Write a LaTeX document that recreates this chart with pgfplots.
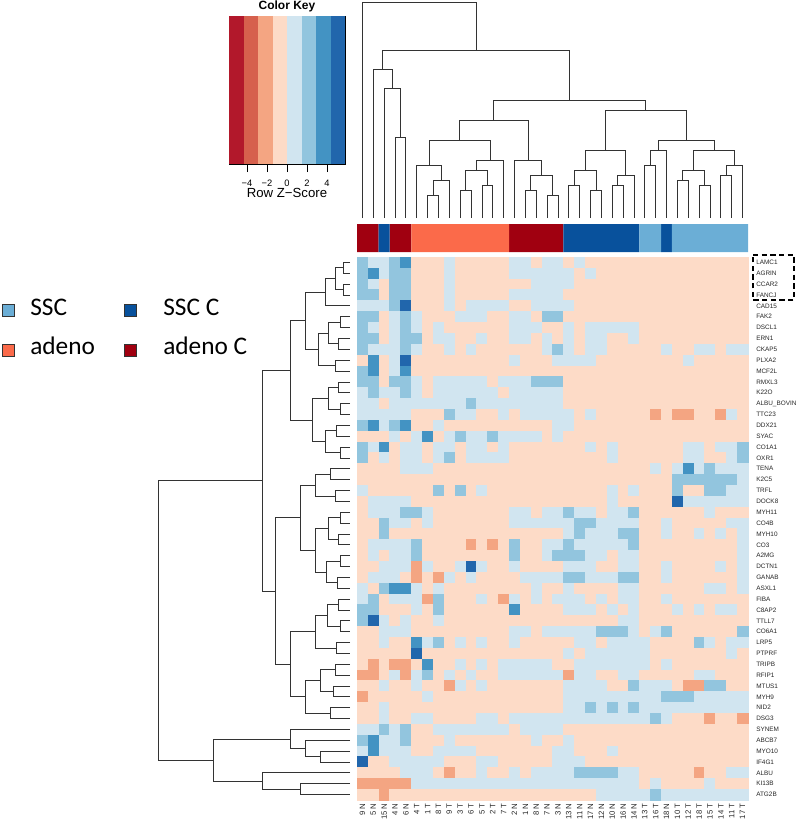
\documentclass[border=0pt]{standalone}
\usepackage{pgfplots}
\usepackage{pgfplotstable}
\pgfplotsset{compat=1.18}
\usepackage{fontspec}
\setmainfont{Liberation Sans}
\newfontfamily\legfont{Carlito}
\newcommand\lab{\fontsize{4.8}{5}\selectfont}
\newcommand\clab{\fontsize{5.8}{6}\selectfont}
\definecolor{cSSC}{RGB}{107,174,214}
\definecolor{cSSCC}{RGB}{8,81,156}
\definecolor{cAd}{RGB}{251,106,74}
\definecolor{cAdC}{RGB}{160,0,16}
\definecolor{k1}{RGB}{178,24,43}
\definecolor{k2}{RGB}{214,96,77}
\definecolor{k3}{RGB}{244,165,130}
\definecolor{k4}{RGB}{253,219,199}
\definecolor{k5}{RGB}{209,229,240}
\definecolor{k6}{RGB}{146,197,222}
\definecolor{k7}{RGB}{67,147,195}
\definecolor{k8}{RGB}{33,102,172}
% heatmap levels: 0..7 = colour key stripes from dark red to dark blue
\pgfplotstableread[header=false]{
5 4 4 5 6 3 3 3 4 3 3 3 3 3 4 4 3 4 4 3 4 3 3 3 3 3 3 3 3 3 3 3 3 3 3 3
5 6 4 5 5 3 3 3 4 3 3 3 3 3 4 4 4 4 4 4 3 4 3 3 3 3 3 3 3 3 3 3 3 3 3 3
5 4 3 5 5 3 3 3 4 3 3 3 3 3 3 3 4 4 4 4 3 3 3 3 3 3 3 3 3 3 3 3 3 3 3 3
5 5 3 5 5 3 3 3 4 3 3 3 3 3 4 4 4 4 4 3 3 3 3 3 3 3 3 3 3 3 3 3 3 3 3 3
4 4 4 5 7 3 3 3 4 3 4 4 4 4 3 3 4 4 4 4 3 3 3 3 3 3 3 3 3 3 3 3 3 3 3 3
5 5 3 4 5 4 3 3 3 4 4 4 3 3 4 4 3 5 5 3 3 3 3 3 3 3 3 3 3 3 3 3 3 3 3 3
5 4 3 4 5 4 3 4 3 3 3 3 3 3 4 4 4 3 3 4 3 4 4 4 4 4 3 3 3 3 3 3 3 3 3 3
5 5 3 4 5 5 3 4 4 3 3 4 3 3 4 4 3 4 3 4 3 4 4 3 3 4 3 3 3 3 3 3 3 3 3 3
5 4 4 4 5 4 3 3 4 3 4 3 3 3 3 3 3 4 5 4 3 4 4 3 3 3 3 3 4 3 3 4 4 3 4 4
3 6 3 4 7 3 3 3 3 3 3 3 3 3 4 3 3 3 4 4 4 4 3 3 3 3 3 3 3 3 4 3 3 3 3 3
5 6 3 4 6 3 3 3 3 3 3 3 3 3 3 3 3 3 3 3 3 3 3 3 3 3 3 3 3 3 3 3 3 3 3 3
5 5 3 5 5 4 3 4 4 4 4 4 3 4 4 4 5 5 5 3 3 3 3 3 3 3 3 3 3 3 3 3 3 3 3 3
4 5 4 4 5 4 3 4 4 4 4 4 4 3 4 4 4 4 4 3 3 3 3 3 3 3 3 3 3 3 3 3 3 3 3 3
4 4 3 4 4 4 4 4 4 4 5 4 4 4 4 4 4 4 4 3 3 3 3 3 3 3 3 3 3 3 3 3 3 3 3 3
4 4 4 4 4 3 3 3 5 4 4 3 3 4 3 4 4 4 4 4 3 4 3 3 3 3 3 2 3 2 2 3 3 2 4 3
5 6 4 5 6 3 3 4 3 3 3 3 3 3 3 3 3 3 4 4 3 3 3 3 3 3 3 3 3 3 3 3 3 3 3 3
3 3 3 4 3 4 6 3 4 5 4 4 5 4 4 4 4 3 4 3 3 3 3 3 3 3 3 3 3 3 3 3 3 3 3 3
5 4 6 3 4 4 3 4 4 3 4 4 3 4 3 3 3 3 3 3 3 4 3 4 3 3 3 3 3 3 4 4 3 4 4 5
5 3 4 3 4 4 3 4 5 3 4 4 4 4 3 3 3 3 3 3 3 3 3 4 3 3 3 3 3 3 4 4 3 3 4 5
3 3 3 3 4 4 4 3 3 3 3 3 3 3 3 3 3 3 3 3 3 3 3 3 3 3 3 4 3 4 6 4 5 4 4 4
3 3 3 3 3 3 3 3 3 3 3 3 3 3 3 3 3 3 3 3 3 3 3 3 3 3 3 3 3 5 5 5 5 5 5 4
4 3 3 3 3 3 3 5 3 5 3 4 3 3 3 3 3 3 3 3 3 3 3 4 3 4 3 3 3 5 3 3 5 5 4 4
3 4 4 4 4 3 3 3 3 3 3 3 3 3 3 3 3 3 3 3 3 3 3 4 3 3 3 3 3 7 4 4 4 4 4 4
3 4 4 4 5 5 4 3 3 3 3 3 3 3 4 4 3 4 4 5 4 4 3 4 4 5 3 3 3 3 3 3 4 3 3 3
3 3 5 4 4 3 4 3 3 3 3 3 3 3 4 4 4 4 4 4 5 5 4 4 4 4 3 3 4 3 3 3 3 3 4 4
3 3 5 3 3 3 3 3 3 3 3 3 3 3 3 3 3 3 3 4 5 4 4 4 5 5 3 3 4 3 3 4 3 4 3 4
3 4 4 4 4 5 3 3 3 3 2 3 2 3 5 3 3 4 4 5 4 4 4 4 4 5 3 3 3 3 3 3 3 3 3 4
3 4 3 4 4 5 3 3 3 3 3 3 3 3 5 3 3 4 5 5 5 4 4 3 4 4 3 3 3 3 3 3 3 3 3 4
3 3 4 4 4 2 4 3 3 4 7 4 3 3 4 3 3 3 3 4 4 4 3 3 4 4 3 3 4 3 3 3 3 4 3 4
3 4 4 4 3 2 3 2 4 3 4 3 3 3 3 4 4 4 4 5 5 4 4 4 5 5 3 3 4 3 3 3 3 3 3 4
4 3 5 6 6 4 3 4 3 3 3 3 3 3 3 3 4 3 3 4 3 3 3 3 4 4 3 3 3 3 3 3 4 4 3 4
4 5 3 4 4 4 2 5 3 3 3 4 3 2 4 3 4 3 4 4 4 3 4 3 4 4 3 3 4 3 3 3 3 3 3 3
5 5 3 3 3 4 3 5 3 3 3 3 3 3 6 3 3 3 3 4 4 4 3 4 3 4 3 3 3 4 3 4 3 4 4 3
5 7 4 3 4 3 3 4 3 3 3 3 3 3 3 3 3 3 3 3 3 3 3 3 4 4 3 3 3 3 3 3 3 3 3 3
3 3 4 4 4 3 3 3 3 3 3 3 3 3 4 4 3 4 4 4 4 4 5 5 5 4 3 4 5 3 3 3 3 3 3 5
3 3 4 3 3 6 4 5 3 4 3 4 3 3 4 3 3 3 3 3 4 4 3 4 4 4 4 3 3 3 3 5 4 3 4 4
3 3 3 3 3 7 3 3 3 3 3 3 3 3 3 3 3 3 3 4 3 4 4 4 4 4 4 3 3 3 3 3 3 3 4 3
3 2 3 2 2 3 6 3 3 4 3 4 3 4 4 4 4 4 3 3 4 4 4 4 4 4 4 3 4 3 3 3 3 3 3 3
2 2 3 4 2 4 5 3 4 3 4 3 3 4 4 4 4 4 4 2 4 4 3 3 4 4 3 3 3 3 3 4 4 3 3 3
3 3 4 3 3 4 3 3 2 4 3 4 3 3 3 3 3 3 3 4 4 4 4 3 3 5 4 4 4 3 2 2 5 5 3 3
2 3 3 3 3 3 4 3 3 3 3 3 3 3 3 3 3 3 3 4 4 4 4 4 4 4 4 4 5 5 5 4 4 4 4 4
3 3 4 3 3 3 3 3 3 3 3 3 3 3 3 3 3 3 3 4 4 5 4 5 4 5 4 4 4 4 4 4 4 4 4 4
3 3 4 3 3 4 4 3 3 3 3 4 4 3 4 4 4 4 4 4 4 4 4 4 4 4 4 5 4 3 3 3 2 3 3 2
4 4 5 4 5 3 3 4 4 4 4 4 4 4 3 4 4 4 4 3 3 3 3 3 3 3 3 3 3 3 3 3 3 3 3 3
5 6 4 4 5 3 3 3 4 3 3 3 3 3 3 3 4 3 3 4 3 3 3 3 3 3 3 3 3 3 3 3 3 3 3 3
4 6 4 4 4 3 3 4 4 4 4 3 3 3 3 3 3 3 4 4 3 3 3 4 3 3 3 3 3 3 3 3 3 3 3 3
7 3 3 4 4 4 4 4 3 3 3 4 4 3 3 3 3 3 4 4 4 3 3 3 3 3 3 3 3 3 3 3 3 3 3 3
3 3 3 3 4 4 4 3 2 3 3 4 3 3 4 3 4 4 4 4 5 5 5 5 4 4 3 3 3 3 3 2 3 3 4 4
2 2 2 2 2 4 4 4 4 4 4 4 4 4 4 4 4 4 4 4 4 4 4 4 4 4 3 4 3 3 3 3 4 3 3 3
3 3 2 3 3 3 3 3 3 3 3 3 3 3 3 3 3 3 3 3 3 3 4 4 4 4 4 5 4 4 4 4 4 4 4 4
}\hm
\begin{document}
\begin{tikzpicture}
\path[use as bounding box] (0,0) rectangle (597.75pt,-618.75pt);
\clip (0,0) rectangle (597.75pt,-618.75pt);
% ---------------- heatmap
\begin{axis}[at={(267.75pt,-192.75pt)}, anchor=north west, scale only axis,
  width=293.25pt, height=407.25pt,
  xmin=-0.5, xmax=35.5, ymin=-0.5, ymax=49.5, y dir=reverse,
  axis line style={draw=none}, tick style={draw=none},
  xtick={0,...,35},
  xticklabels={9 N,5 N,15 N,4 N,6 N,4 T,1 T,8 T,9 T,3 T,6 T,5 T,2 T,7 T,2 N,1 N,8 N,7 N,3 N,13 N,11 N,17 N,12 N,10 N,16 N,14 N,13 T,16 T,18 N,10 T,12 T,18 T,15 T,14 T,11 T,17 T},
  xticklabel style={rotate=90, anchor=east, inner sep=0pt, font=\clab, text=black!85},
  xticklabel shift=2.5pt,
  ytick={0,...,49},
  yticklabels={LAMC1,AGRIN,CCAR2,FANCJ,CAD15,FAK2,DSCL1,ERN1,CKAP5,PLXA2,MCF2L,RMXL3,K22O,ALBU\_BOVIN,TTC23,DDX21,SYAC,CO1A1,OXR1,TENA,K2C5,TRFL,DOCK8,MYH11,CO4B,MYH10,CO3,A2MG,DCTN1,GANAB,ASXL1,FIBA,C8AP2,TTLL7,CO6A1,LRP5,PTPRF,TRIPB,RFIP1,MTUS1,MYH9,NID2,DSG3,SYNEM,ABCB7,MYO10,IF4G1,ALBU,KI13B,ATG2B},
  yticklabel pos=right,
  yticklabel style={anchor=west, inner sep=0pt, font=\lab, text=black!85},
  yticklabel shift=6pt,
  colormap={hm}{rgb255=(178,24,43) rgb255=(214,96,77) rgb255=(244,165,130) rgb255=(253,219,199) rgb255=(209,229,240) rgb255=(146,197,222) rgb255=(67,147,195) rgb255=(33,102,172)},
  point meta min=0, point meta max=7]
\pgfplotsinvokeforeach{0,...,35}{
  \addplot[scatter, only marks, mark=square*, mark size=4.12pt, point meta=explicit,
    scatter/use mapped color={draw=mapped color, fill=mapped color},
    mark options={line width=0.05pt}]
    table[x expr=#1, y expr=\coordindex, meta index=#1] {\hm};
}
\end{axis}
% ---------------- column side colours
\begin{axis}[at={(267.75pt,-168pt)}, anchor=north west, scale only axis,
  width=293.25pt, height=21pt, xmin=-0.5, xmax=35.5, ymin=0, ymax=1, hide axis]
\addplot[ybar, bar width=1, bar shift=0pt, fill=cAdC, draw=none] coordinates {(0,1)(1,1)(3,1)(4,1)(14,1)(15,1)(16,1)(17,1)(18,1)};
\addplot[ybar, bar width=1, bar shift=0pt, fill=cSSCC, draw=none] coordinates {(2,1)(19,1)(20,1)(21,1)(22,1)(23,1)(24,1)(25,1)(28,1)};
\addplot[ybar, bar width=1, bar shift=0pt, fill=cAd, draw=none] coordinates {(5,1)(6,1)(7,1)(8,1)(9,1)(10,1)(11,1)(12,1)(13,1)};
\addplot[ybar, bar width=1, bar shift=0pt, fill=cSSC, draw=none] coordinates {(26,1)(27,1)(29,1)(30,1)(31,1)(32,1)(33,1)(34,1)(35,1)};
\end{axis}
% ---------------- column dendrogram (x = column, y = height in px from top)
\begin{axis}[at={(267.75pt,0pt)}, anchor=north west, scale only axis,
  width=293.25pt, height=166.5pt, xmin=-0.5, xmax=35.5, ymin=0, ymax=222, y dir=reverse, hide axis]
\addplot[black!80, line width=0.6pt, unbounded coords=jump] table {
x y
3 218
3 137
4 137
4 218
nan nan
2 218
2 88
3.5 88
3.5 137
nan nan
1 218
1 69
2.75 69
2.75 88
nan nan
9 218
9 190
10 190
10 218
nan nan
11 218
11 185
12 185
12 218
nan nan
9.5 190
9.5 170
11.5 170
11.5 185
nan nan
10.5 170
10.5 160
13 160
13 218
nan nan
6 218
6 195
7 195
7 218
nan nan
6.5 195
6.5 180
8 180
8 218
nan nan
5 218
5 165
7.25 165
7.25 180
nan nan
6.125 165
6.125 140
11.75 140
11.75 160
nan nan
15 218
15 190
16 190
16 218
nan nan
17 218
17 195
18 195
18 218
nan nan
15.5 190
15.5 175
17.5 175
17.5 195
nan nan
14 218
14 160
16.5 160
16.5 175
nan nan
8.9375 140
8.9375 120
15.25 120
15.25 160
nan nan
19 218
19 185
20 185
20 218
nan nan
21 218
21 190
22 190
22 218
nan nan
19.5 185
19.5 170
21.5 170
21.5 190
nan nan
23 218
23 185
24 185
24 218
nan nan
23.5 185
23.5 175
25 175
25 218
nan nan
20.5 170
20.5 150
24.25 150
24.25 175
nan nan
26 218
26 165
27 165
27 218
nan nan
26.5 165
26.5 150
28 150
28 218
nan nan
29 218
29 180
30 180
30 218
nan nan
31 218
31 185
32 185
32 218
nan nan
29.5 180
29.5 170
31.5 170
31.5 185
nan nan
33 218
33 175
34 175
34 218
nan nan
33.5 175
33.5 165
35 165
35 218
nan nan
30.5 170
30.5 150
34.25 150
34.25 165
nan nan
27.25 150
27.25 140
32.375 140
32.375 150
nan nan
22.375 150
22.375 110
29.8125 110
29.8125 140
nan nan
12.09375 120
12.09375 100
26.09375 100
26.09375 110
nan nan
1.875 69
1.875 50
19.09375 50
19.09375 100
nan nan
0 218
0 2
10.484375 2
10.484375 50
};
\end{axis}
% ---------------- row dendrogram (x = px from left, y = row)
\begin{axis}[at={(112.5pt,-192.75pt)}, anchor=north west, scale only axis,
  width=151.5pt, height=407.25pt, xmin=150, xmax=352, ymin=-0.5, ymax=49.5, y dir=reverse, hide axis]
\addplot[black!80, line width=0.6pt, unbounded coords=jump] table {
x y
350 0
343 0
343 1
350 1
nan nan
350 2
343 2
343 3
350 3
nan nan
343 0.5
335 0.5
335 2.5
343 2.5
nan nan
335 1.5
325 1.5
325 4
350 4
nan nan
350 5
340 5
340 6
350 6
nan nan
350 7
338 7
338 8
350 8
nan nan
340 5.5
328 5.5
328 7.5
338 7.5
nan nan
350 9
335 9
335 10
350 10
nan nan
328 6.5
318 6.5
318 9.5
335 9.5
nan nan
325 2.75
305 2.75
305 8
318 8
nan nan
350 11
338 11
338 12
350 12
nan nan
350 13
340 13
340 14
350 14
nan nan
338 11.5
328 11.5
328 13.5
340 13.5
nan nan
350 15
336 15
336 16
350 16
nan nan
350 17
340 17
340 18
350 18
nan nan
336 15.5
325 15.5
325 17.5
340 17.5
nan nan
328 12.5
312 12.5
312 16.5
325 16.5
nan nan
305 5.375
290 5.375
290 14.5
312 14.5
nan nan
350 19
330 19
330 20
350 20
nan nan
350 21
335 21
335 22
350 22
nan nan
330 19.5
315 19.5
315 21.5
335 21.5
nan nan
350 23
340 23
340 24
350 24
nan nan
350 25
338 25
338 26
350 26
nan nan
340 23.5
328 23.5
328 25.5
338 25.5
nan nan
350 27
340 27
340 28
350 28
nan nan
350 29
337 29
337 30
350 30
nan nan
340 27.5
326 27.5
326 29.5
337 29.5
nan nan
328 24.5
315 24.5
315 28.5
326 28.5
nan nan
315 20.5
300 20.5
300 26.5
315 26.5
nan nan
350 31
338 31
338 32
350 32
nan nan
350 33
340 33
340 34
350 34
nan nan
338 31.5
327 31.5
327 33.5
340 33.5
nan nan
350 35
336 35
336 36
350 36
nan nan
327 32.5
315 32.5
315 35.5
336 35.5
nan nan
350 37
335 37
335 38
350 38
nan nan
350 39
333 39
333 40
350 40
nan nan
335 37.5
320 37.5
320 39.5
333 39.5
nan nan
350 41
330 41
330 42
350 42
nan nan
320 38.5
305 38.5
305 41.5
330 41.5
nan nan
315 34
290 34
290 40
305 40
nan nan
300 23.5
275 23.5
275 37
290 37
nan nan
290 9.9375
262 9.9375
262 30.25
275 30.25
nan nan
350 48
300 48
300 49
350 49
nan nan
350 47
262 47
262 48.5
300 48.5
nan nan
350 45
320 45
320 46
350 46
nan nan
350 44
305 44
305 45.5
320 45.5
nan nan
350 43
290 43
290 44.75
305 44.75
nan nan
290 43.875
213 43.875
213 47.75
262 47.75
nan nan
262 20.09375
158 20.09375
158 45.8125
213 45.8125
};
\end{axis}
% ---------------- colour key
\begin{axis}[at={(171.75pt,-12pt)}, anchor=north west, scale only axis,
  width=87pt, height=111pt, xmin=-5.8, xmax=5.8, ymin=0, ymax=1,
  xtick={-4,-2,0,2,4}, xticklabels={−4,−2,0,2,4}, ytick=\empty,
  xtick pos=left, tick align=outside, major tick length=6pt,
  xticklabel style={anchor=base, inner sep=0pt, font=\fontsize{7}{8}\selectfont},
  xticklabel shift=11pt,
  axis line style={black, line width=0.6pt}, tick style={black, line width=0.6pt}]
\addplot[ybar, bar width=1.45, bar shift=0pt, fill=k1, draw=none] coordinates {(-5.075,1)};
\addplot[ybar, bar width=1.45, bar shift=0pt, fill=k2, draw=none] coordinates {(-3.625,1)};
\addplot[ybar, bar width=1.45, bar shift=0pt, fill=k3, draw=none] coordinates {(-2.175,1)};
\addplot[ybar, bar width=1.45, bar shift=0pt, fill=k4, draw=none] coordinates {(-0.725,1)};
\addplot[ybar, bar width=1.45, bar shift=0pt, fill=k5, draw=none] coordinates {(0.725,1)};
\addplot[ybar, bar width=1.45, bar shift=0pt, fill=k6, draw=none] coordinates {(2.175,1)};
\addplot[ybar, bar width=1.45, bar shift=0pt, fill=k7, draw=none] coordinates {(3.625,1)};
\addplot[ybar, bar width=1.45, bar shift=0pt, fill=k8, draw=none] coordinates {(5.075,1)};
\end{axis}
% ---------------- overlay in pixel units
\begin{axis}[at={(0pt,0pt)}, anchor=north west, scale only axis,
  width=597.75pt, height=618.75pt, xmin=0, xmax=797, ymin=0, ymax=825, y dir=reverse,
  hide axis, clip=false]
\addplot[only marks, mark=square*, mark size=4.4pt, mark options={fill=cSSC, draw=black!80, line width=0.5pt}] coordinates {(8,310)};
\addplot[only marks, mark=square*, mark size=4.4pt, mark options={fill=cSSCC, draw=black!80, line width=0.5pt}] coordinates {(130,310)};
\addplot[only marks, mark=square*, mark size=4.4pt, mark options={fill=cAd, draw=black!80, line width=0.5pt}] coordinates {(8,350)};
\addplot[only marks, mark=square*, mark size=4.4pt, mark options={fill=cAdC, draw=black!80, line width=0.5pt}] coordinates {(130,350)};
\node[anchor=base west, inner sep=0pt, font=\legfont\fontsize{19}{22}\selectfont] at (axis cs:30,315) {SSC};
\node[anchor=base west, inner sep=0pt, font=\legfont\fontsize{19}{22}\selectfont] at (axis cs:163,315) {SSC C};
\node[anchor=base west, inner sep=0pt, font=\legfont\fontsize{19}{22}\selectfont] at (axis cs:30,354) {adeno};
\node[anchor=base west, inner sep=0pt, font=\legfont\fontsize{19}{22}\selectfont] at (axis cs:163,354) {adeno C};
\node[anchor=base, inner sep=0pt, font=\bfseries\fontsize{9}{10}\selectfont] at (axis cs:287,9.5) {Color Key};
\node[anchor=base, inner sep=0pt, font=\fontsize{9.9}{11}\selectfont] at (axis cs:287,197.5) {Row Z−Score};
\addplot[black, line width=1.4pt, dash pattern=on 4pt off 2.5pt] coordinates {(753,255)(794,255)(794,300)(753,300)(753,255)};
\end{axis}
\end{tikzpicture}
\end{document}
